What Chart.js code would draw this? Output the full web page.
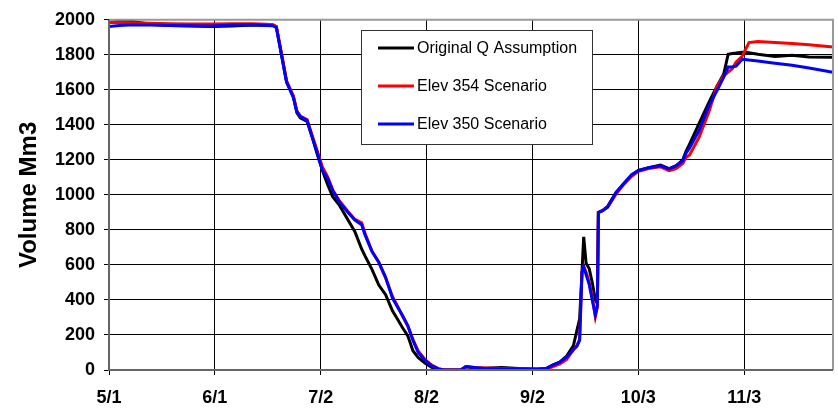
<!DOCTYPE html>
<html>
<head>
<meta charset="utf-8">
<script src="https://cdn.jsdelivr.net/npm/chart.js@4.4.1/dist/chart.umd.min.js"></script>
<style>
  html, body { margin: 0; padding: 0; background: #fff; }
  #wrap { width: 838px; height: 411px; position: relative; }
</style>
</head>
<body>
<div id="wrap"><canvas id="volChart"></canvas></div>
<script>
// Días desde el 1 de mayo
const days = [0, 3, 7, 12, 18, 24, 30, 36, 42, 46, 48, 49, 50.5, 52, 54, 55, 56, 58, 59.5, 61, 62.5, 64, 65.5, 67.5,
  70, 72, 74, 75, 77, 79, 81, 83, 84.5, 86, 87.5, 89, 90.5, 92.5, 94.5, 96.5, 98, 103, 104.5, 107, 110, 115, 120,
  125, 128, 130, 132, 134, 136, 137, 137.8, 138.5, 139, 139.7, 140.6, 141.5, 142.4, 143, 143.3, 144.5, 146, 148.5,
  150.5, 153, 155, 158, 161.5, 164, 166, 168, 169, 170, 172.8, 175.7, 178, 180, 181.3, 182.5, 183.6, 185.4, 187.4,
  190, 195, 200, 205, 212];

// Original Q Assumption
const volOriginal = [1985, 1992, 1990, 1975, 1968, 1965, 1962, 1965, 1970, 1968, 1970, 1960, 1800, 1645, 1560, 1470, 1440, 1420, 1330, 1230, 1140, 1060, 990, 940,
  856, 790, 690, 650, 575, 485, 430, 338, 290, 240, 195, 110, 72, 40, 15, 4, 0, 0, 18, 12, 10, 14, 8,
  5, 8, 30, 45, 80, 140, 225, 290, 560, 760, 610, 580, 500, 400, 380, 900, 910, 935, 1014,
  1060, 1110, 1140, 1155, 1170, 1150, 1165, 1200, 1250, 1290, 1408, 1530, 1620, 1690, 1803, 1808, 1810, 1815, 1812,
  1803, 1790, 1798, 1788, 1786];

// Elev 354 Scenario
const vol354 = [1985, 1985, 1983, 1980, 1978, 1976, 1976, 1978, 1978, 1975, 1972, 1962, 1810, 1650, 1565, 1480, 1450, 1430, 1340, 1250, 1160, 1105, 1030, 965,
  905, 860, 840, 780, 680, 615, 525, 420, 365, 305, 250, 175, 110, 60, 28, 8, 2, 0, 20, 15, 12, 8, 6,
  6, 4, 20, 35, 60, 115, 140, 175, 560, 590, 560, 500, 420, 305, 360, 900, 910, 930, 1005,
  1055, 1105, 1135, 1150, 1160, 1138, 1150, 1180, 1215, 1228, 1330, 1476, 1620, 1680, 1701, 1720, 1758, 1792, 1870,
  1876, 1870, 1865, 1858, 1845];

// Elev 350 Scenario
const vol350 = [1962, 1968, 1972, 1970, 1968, 1966, 1965, 1970, 1972, 1968, 1966, 1955, 1800, 1645, 1555, 1476, 1448, 1425, 1330, 1240, 1140, 1095, 1025, 958,
  900, 856, 830, 770, 676, 615, 530, 411, 360, 310, 254, 169, 101, 56, 23, 6, 0, 0, 20, 14, 8, 6, 6,
  5, 8, 28, 45, 73, 118, 135, 169, 560, 590, 545, 490, 400, 315, 372, 900, 910, 930, 1014,
  1059, 1115, 1138, 1155, 1166, 1149, 1166, 1194, 1240, 1268, 1369, 1510, 1594, 1673, 1730, 1730, 1735, 1775, 1770,
  1765, 1752, 1740, 1725, 1700];

// Etiquetas del eje X
const tickDays = [0, 31, 62, 93, 124, 155, 186];
const tickLabels = ['5/1', '6/1', '7/2', '8/2', '9/2', '10/3', '11/3'];

const FONT = "Arial, 'Liberation Sans', sans-serif";

function toPoints(vals) {
    return days.map((d, i) => ({ x: d, y: vals[i] }));
}

// Marco gris del área de trazado
const framePlugin = {
    id: 'frame',
    afterDatasetsDraw(chart) {
        const { ctx, chartArea: a } = chart;
        ctx.save();
        ctx.strokeStyle = '#999';
        ctx.lineWidth = 2;
        ctx.beginPath();
        ctx.moveTo(a.left, a.top);
        ctx.lineTo(a.right, a.top);
        ctx.lineTo(a.right, a.bottom);
        ctx.stroke();
        ctx.strokeStyle = '#666';
        ctx.beginPath();
        ctx.moveTo(a.left, a.top);
        ctx.lineTo(a.left, a.bottom);
        ctx.lineTo(a.right, a.bottom);
        ctx.stroke();
        ctx.restore();
    }
};

// Leyenda dentro del gráfico
const boxLegend = {
    id: 'boxLegend',
    afterDraw(chart) {
        const ctx = chart.ctx;
        const x = 361, y = 30, w = 231, h = 114;
        ctx.save();
        ctx.fillStyle = '#fff';
        ctx.fillRect(x, y, w, h);
        ctx.strokeStyle = '#333';
        ctx.lineWidth = 1;
        ctx.strokeRect(x + 0.5, y + 0.5, w, h);
        ctx.font = '16px ' + FONT;
        ctx.textBaseline = 'middle';
        chart.data.datasets.forEach((ds, i) => {
            const ry = 48 + i * 38;
            ctx.strokeStyle = ds.borderColor;
            ctx.lineWidth = 3;
            ctx.beginPath();
            ctx.moveTo(378, ry);
            ctx.lineTo(414, ry);
            ctx.stroke();
            ctx.fillStyle = '#000';
            ctx.fillText(ds.label, 417, ry + 1);
        });
        ctx.restore();
    }
};

const ctx = document.getElementById('volChart').getContext('2d');
new Chart(ctx, {
    type: 'line',
    data: {
        datasets: [
            { label: 'Original Q Assumption', data: toPoints(volOriginal), borderColor: '#000000', order: 3 },
            { label: 'Elev 354 Scenario', data: toPoints(vol354), borderColor: '#ff0000', order: 2 },
            { label: 'Elev 350 Scenario', data: toPoints(vol350), borderColor: '#0000ff', order: 1 }
        ]
    },
    options: {
        responsive: true,
        maintainAspectRatio: false,
        animation: false,
        datasets: {
            line: { borderWidth: 3, pointRadius: 0, tension: 0, fill: false }
        },
        layout: { padding: { left: 15, right: 5, top: 15, bottom: 0 } },
        plugins: {
            legend: { display: false },
            tooltip: { enabled: false }
        },
        scales: {
            x: {
                type: 'linear',
                min: 0,
                max: 212,
                afterBuildTicks: (axis) => {
                    axis.ticks = tickDays.map(v => ({ value: v }));
                },
                afterFit: (axis) => { axis.height = 41; },
                ticks: {
                    autoSkip: false,
                    maxRotation: 0,
                    padding: 12,
                    color: '#000',
                    font: { family: FONT, size: 18, weight: 'bold' },
                    callback: (value) => tickLabels[tickDays.indexOf(value)] || ''
                },
                grid: { color: '#000', lineWidth: 1, tickLength: 5, tickColor: '#000' },
                border: { display: false }
            },
            y: {
                min: 0,
                max: 2000,
                afterFit: (axis) => { axis.width = 94; },
                ticks: {
                    stepSize: 200,
                    padding: 9,
                    color: '#000',
                    font: { family: FONT, size: 18, weight: 'bold' },
                    callback: (value) => String(value)
                },
                grid: { color: '#000', lineWidth: 1, tickLength: 5, tickColor: '#000' },
                border: { display: false },
                title: {
                    display: true,
                    text: 'Volume Mm3',
                    color: '#000',
                    font: { family: FONT, size: 24, weight: 'bold' },
                    padding: { top: 0, bottom: 6 }
                }
            }
        }
    },
    plugins: [framePlugin, boxLegend]
});
</script>
</body>
</html>
